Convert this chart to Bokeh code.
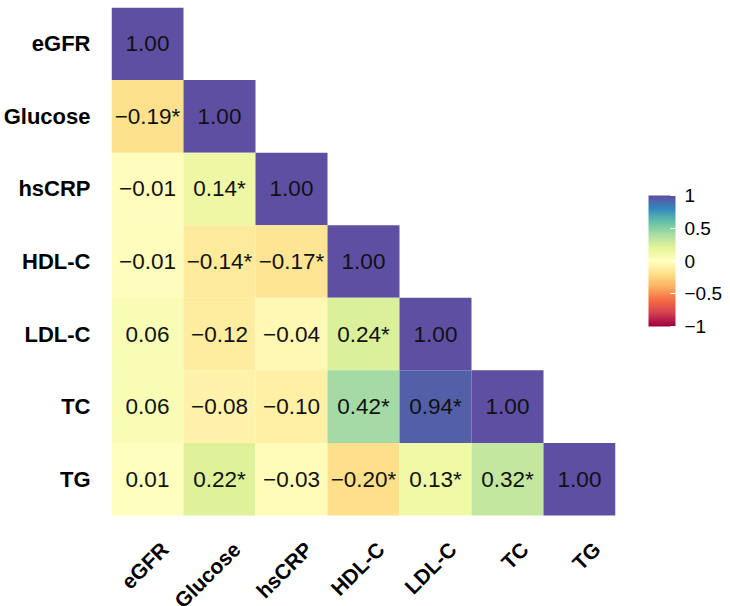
import numpy as np
from bokeh.plotting import figure
from bokeh.models import ColumnDataSource, LinearColorMapper, ColorBar, FixedTicker, Range1d
from bokeh.core.properties import value
from bokeh.embed import file_html
from bokeh.resources import INLINE

variables = ["eGFR", "Glucose", "hsCRP", "HDL-C", "LDL-C", "TC", "TG"]

# lower-triangle correlation rows (row variable -> values for columns eGFR..row)
corr_rows = [
    [1.00],
    [-0.19, 1.00],
    [-0.01, 0.14, 1.00],
    [-0.01, -0.14, -0.17, 1.00],
    [0.06, -0.12, -0.04, 0.24, 1.00],
    [0.06, -0.08, -0.10, 0.42, 0.94, 1.00],
    [0.01, 0.22, -0.03, -0.20, 0.13, 0.32, 1.00],
]
star_rows = [
    [False],
    [True, False],
    [False, True, False],
    [False, True, True, False],
    [False, False, False, True, False],
    [False, False, False, True, True, False],
    [False, True, False, True, True, True, False],
]
cbar_ticks = [-1, -0.5, 0, 0.5, 1]
cbar_labels = ["\u22121", "\u22120.5", "0", "0.5", "1"]

spectral11 = ["#9E0142", "#D53E4F", "#F46D43", "#FDAE61", "#FEE08B", "#FFFFBF",
              "#E6F598", "#ABDDA4", "#66C2A5", "#3288BD", "#5E4FA2"]


def interp_palette(colors, n=256):
    rgb = np.array([[int(c[i:i + 2], 16) for i in (1, 3, 5)] for c in colors], dtype=float)
    pos = np.linspace(0, 1, len(colors))
    out = []
    for t in np.linspace(0, 1, n):
        r = np.interp(t, pos, rgb[:, 0])
        g = np.interp(t, pos, rgb[:, 1])
        b = np.interp(t, pos, rgb[:, 2])
        out.append("#%02x%02x%02x" % (int(round(r)), int(round(g)), int(round(b))))
    return out


palette = interp_palette(spectral11)

n = len(variables)
# row k (from the top) sits at numeric row centre n-1-k+0.5 on the y axis
row_centre = {name: n - 1 - k + 0.5 for k, name in enumerate(variables)}

xs, ys, vals, labels = [], [], [], []
for i, row in enumerate(corr_rows):
    for j, v in enumerate(row):
        xs.append(variables[j])
        ys.append(row_centre[variables[i]])
        vals.append(v)
        s = ("%.2f" % abs(v))
        if v < 0:
            s = "\u2212" + s
        if star_rows[i][j]:
            s += "*"
        labels.append(s)

src = ColumnDataSource(dict(x=xs, y=ys, v=vals, label=labels))
mapper = LinearColorMapper(palette=palette, low=-1, high=1)

W, H = 730, 606
FRAME_LEFT, FRAME_RIGHT, FRAME_TOP = 107, 115, 7
cell_px = (W - FRAME_LEFT - FRAME_RIGHT) / n
bottom_strip_px = 91  # room under the grid for the rotated column labels

p = figure(width=W, height=H, x_range=variables,
           y_range=Range1d(-bottom_strip_px / cell_px, n),
           output_backend="svg", toolbar_location=None,
           min_border_left=FRAME_LEFT, min_border_right=FRAME_RIGHT,
           min_border_top=FRAME_TOP, min_border_bottom=0)
p.outline_line_color = None
p.background_fill_color = "white"
p.border_fill_color = "white"
p.x_range.range_padding = 0

p.rect(x="x", y="y", width=1, height=1, source=src,
       fill_color={"field": "v", "transform": mapper}, line_color=None)
p.text(x="x", y="y", text="label", source=src, text_align="center", text_baseline="middle",
       text_font=value("Liberation Sans"), text_font_size="22.5px", text_color="#111111")

yax = p.yaxis[0]
yax.ticker = FixedTicker(ticks=[row_centre[v] for v in variables])
yax.major_label_overrides = {row_centre[v]: v for v in variables}
yax.axis_line_color = None
yax.major_tick_line_color = None
yax.minor_tick_line_color = None
yax.major_label_text_font = "Liberation Sans"
yax.major_label_text_font_style = "bold"
yax.major_label_text_font_size = "22px"
yax.major_label_text_color = "black"
yax.major_label_standoff = 15
p.xaxis.visible = False
p.xgrid.grid_line_color = None
p.ygrid.grid_line_color = None

# rotated column labels under the grid (bottom edge of the grid is y = 0)
xl_src = ColumnDataSource(dict(x=variables, y=[0] * n, text=variables))
p.text(x="x", y="y", text="text", source=xl_src, angle=np.pi / 4,
       x_offset=9, y_offset=22, text_align="right", text_baseline="top",
       text_font=value("Liberation Sans"), text_font_style="bold",
       text_font_size="21px", text_color="black")

cbar = ColorBar(color_mapper=mapper, width=27, height=131, padding=0,
                location=(33, 280),
                ticker=FixedTicker(ticks=cbar_ticks),
                major_label_overrides={t: l for t, l in zip(cbar_ticks, cbar_labels)},
                major_label_text_font="Liberation Sans", major_label_text_font_size="19px",
                major_label_text_color="black", label_standoff=9,
                major_tick_line_color="white", major_tick_in=5, major_tick_out=0,
                bar_line_color=None, border_line_color=None, background_fill_color=None)
p.add_layout(cbar, "right")

open("out.html", "w").write(file_html(p, INLINE))
